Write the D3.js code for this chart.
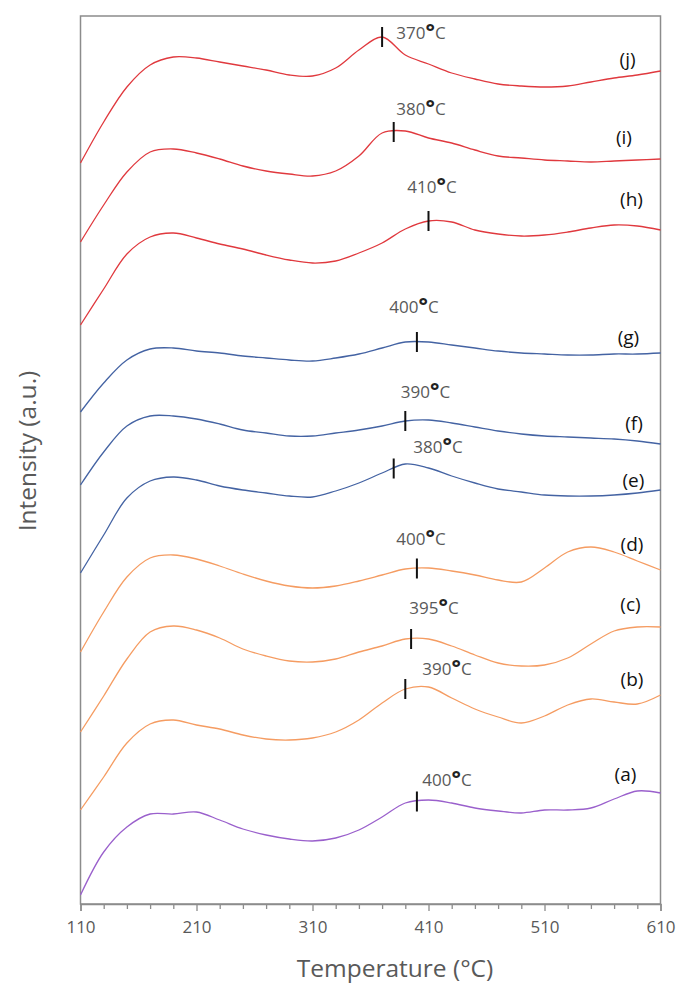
<!DOCTYPE html>
<html>
<head>
<meta charset="utf-8">
<script src="https://cdn.jsdelivr.net/npm/d3@7"></script>
<style>
  body { margin: 0; background: #fff; }
  svg { display: block; font-family: "Open Sans", "Noto Sans", sans-serif; }
</style>
</head>
<body>
<svg id="chart" width="679" height="985"></svg>
<script>
// Sampling temperatures (°C) shared by every profile
const temperature = [110, 130, 150, 170, 190, 210, 230, 250, 270, 290, 310, 330, 350,
                     370, 390, 410, 430, 450, 470, 490, 510, 530, 550, 570, 590, 610];

// Stacked intensity profiles (a.u.), bottom (a) to top (j)
const seriesA = [0.9, 5.2, 7.7, 9.0, 9.0, 9.2, 8.4, 7.5, 6.9, 6.5, 6.3, 6.6, 7.4, 8.7, 10.1, 10.4, 10.1, 9.6, 9.3, 9.1, 9.4, 9.4, 9.6, 10.5, 11.3, 11.1];
const seriesB = [9.4, 12.7, 16.1, 18.0, 18.4, 17.9, 17.5, 16.9, 16.5, 16.4, 16.6, 17.2, 18.4, 20.1, 21.5, 21.7, 20.6, 19.5, 18.7, 18.1, 18.8, 19.9, 20.5, 20.2, 20.0, 20.9];
const seriesC = [17.2, 20.8, 24.5, 27.2, 27.8, 27.4, 26.6, 25.5, 24.8, 24.3, 24.2, 24.5, 25.2, 25.8, 26.5, 26.5, 25.8, 24.9, 24.1, 23.8, 23.9, 24.6, 26.0, 27.3, 27.7, 27.7];
const seriesD = [25.2, 29.2, 32.7, 34.6, 34.9, 34.5, 33.8, 33.0, 32.3, 31.8, 31.6, 31.8, 32.3, 32.9, 33.5, 33.6, 33.3, 32.9, 32.4, 32.2, 33.6, 35.2, 35.7, 35.2, 34.3, 33.4];
const seriesE = [33.1, 36.9, 40.6, 42.3, 42.7, 42.4, 41.8, 41.4, 41.1, 40.8, 40.7, 41.3, 42.1, 43.1, 44.0, 43.6, 42.8, 42.1, 41.5, 41.2, 40.9, 40.8, 40.8, 40.9, 41.1, 41.4];
const seriesF = [41.9, 45.2, 47.8, 48.8, 48.8, 48.5, 48.0, 47.4, 47.1, 46.8, 46.8, 47.1, 47.4, 47.8, 48.3, 48.4, 48.1, 47.7, 47.3, 47.0, 46.8, 46.7, 46.6, 46.5, 46.3, 46.0];
const seriesG = [49.2, 52.1, 54.4, 55.5, 55.6, 55.3, 55.1, 54.8, 54.6, 54.4, 54.3, 54.6, 55.0, 55.6, 56.2, 56.2, 55.9, 55.6, 55.3, 55.1, 55.0, 54.9, 54.9, 55.0, 55.0, 55.1];
const seriesH = [57.9, 61.5, 65.0, 66.7, 67.1, 66.6, 66.0, 65.5, 64.9, 64.4, 64.1, 64.3, 65.1, 66.1, 67.5, 68.3, 68.2, 67.4, 67.0, 66.8, 66.9, 67.2, 67.6, 67.9, 67.8, 67.4];
const seriesI = [66.2, 69.9, 73.2, 75.2, 75.5, 75.1, 74.5, 73.8, 73.3, 73.0, 72.8, 73.3, 74.8, 77.1, 77.3, 76.6, 76.1, 75.4, 74.8, 74.6, 74.4, 74.3, 74.2, 74.3, 74.4, 74.5];
const seriesJ = [74.1, 78.2, 81.7, 83.9, 84.7, 84.6, 84.2, 83.8, 83.4, 82.9, 82.8, 83.6, 85.4, 86.7, 84.9, 84.0, 83.1, 82.5, 82.0, 81.8, 81.7, 81.8, 82.2, 82.6, 82.9, 83.3];

const seriesNames = ["(a)", "(b)", "(c)", "(d)", "(e)", "(f)", "(g)", "(h)", "(i)", "(j)"];
const seriesValues = [seriesA, seriesB, seriesC, seriesD, seriesE, seriesF, seriesG, seriesH, seriesI, seriesJ];

// Peak temperatures (°C) marked on each profile
const peakTemperature = [400, 390, 395, 400, 380, 390, 400, 410, 380, 370];

// Axis ticks
const majorTicks = [110, 210, 310, 410, 510, 610];
const minorTicks = [130, 150, 170, 190, 230, 250, 270, 290, 330, 350, 370, 390,
                    430, 450, 470, 490, 530, 550, 570, 590];

// ---- styling / layout ----
const colors = ["#9a60cc", "#f59c62", "#f59c62", "#f59c62",
                "#4463a3", "#4463a3", "#4463a3",
                "#e0393e", "#e0393e", "#e0393e"];
// anchor (temperature, intensity) for the series tags and peak labels
const tagAt = [[579.8, 12.3], [585.4, 21.8], [584.1, 29.3], [585.4, 35.3], [586.7, 41.7],
               [587.2, 47.4], [582.4, 56.0], [585.0, 69.8], [578.5, 76.0], [581.6, 83.8]];
const peakLabelAt = [[425.9, 11.8], [425.9, 22.9], [414.7, 29.0], [403.5, 35.9], [418.2, 45.1],
                     [407.4, 50.6], [397.5, 59.1], [413.0, 71.1], [403.5, 78.9], [403.5, 86.5]];

const W = 679, H = 985;
const margin = { top: 16, right: 18.5, bottom: 81, left: 80.5 };

const svg = d3.select("#chart");

const x = d3.scaleLinear().domain([110, 610]).range([margin.left, W - margin.right]);
const y = d3.scaleLinear().domain([0, 88.8]).range([H - margin.bottom, margin.top]);

const axisColor = "#8c8c8c";
const textColor = "#595959";

// frame
svg.append("rect")
  .attr("x", x(110)).attr("y", y(88.8))
  .attr("width", x(610) - x(110)).attr("height", y(0) - y(88.8))
  .attr("fill", "none").attr("stroke", axisColor).attr("stroke-width", 1.5);

// minor ticks
const minorAxis = svg.append("g")
  .attr("transform", `translate(0,${y(0)})`)
  .call(d3.axisBottom(x).tickValues(minorTicks).tickSize(5).tickFormat(""));
minorAxis.select(".domain").remove();
minorAxis.selectAll("line").attr("stroke", axisColor).attr("stroke-width", 1.3);

// major ticks with labels
const majorAxis = svg.append("g")
  .attr("transform", `translate(0,${y(0)})`)
  .call(d3.axisBottom(x).tickValues(majorTicks).tickSize(7).tickPadding(10).tickFormat(d3.format("d")));
majorAxis.select(".domain").attr("stroke", axisColor).attr("stroke-width", 1.5);
majorAxis.selectAll("line").attr("stroke", axisColor).attr("stroke-width", 1.3);
majorAxis.selectAll("text")
  .attr("fill", textColor)
  .style("font-size", "17px")
  .style("font-family", "'Open Sans', 'Noto Sans', sans-serif");

// axis titles
svg.append("text")
  .attr("x", 395).attr("y", 977)
  .attr("text-anchor", "middle")
  .attr("fill", textColor)
  .style("font-size", "24.5px")
  .text("Temperature (°C)");

svg.append("text")
  .attr("transform", `translate(36,${451}) rotate(-90)`)
  .attr("text-anchor", "middle")
  .attr("fill", textColor)
  .style("font-size", "24.5px")
  .text("Intensity (a.u.)");

// profiles
const line = d3.line()
  .x((d, i) => x(temperature[i]))
  .y(d => y(d))
  .curve(d3.curveCatmullRom.alpha(0.5));

const plot = svg.append("g");
seriesValues.forEach((vals, k) => {
  plot.append("path")
    .datum(vals)
    .attr("d", line)
    .attr("fill", "none")
    .attr("stroke", colors[k])
    .attr("stroke-width", 1.3)
    .attr("stroke-linejoin", "round");
});

// peak markers and labels
seriesValues.forEach((vals, k) => {
  const at = d3.scaleLinear().domain(temperature).range(vals);
  const t = peakTemperature[k];
  const cy = y(at(t));
  svg.append("line")
    .attr("x1", x(t)).attr("x2", x(t))
    .attr("y1", cy - 10).attr("y2", cy + 10)
    .attr("stroke", "#111").attr("stroke-width", 2);

  const lab = svg.append("text")
    .attr("x", x(peakLabelAt[k][0])).attr("y", y(peakLabelAt[k][1]))
    .attr("text-anchor", "middle")
    .attr("fill", textColor)
    .style("font-size", "17px");
  lab.append("tspan").text(t);
  lab.append("tspan").text("°").attr("fill", "#222").style("font-weight", "700").style("font-size", "22px");
  lab.append("tspan").text("C");
});

// series tags
seriesNames.forEach((name, k) => {
  svg.append("text")
    .attr("x", x(tagAt[k][0])).attr("y", y(tagAt[k][1]))
    .attr("text-anchor", "middle")
    .attr("fill", "#111")
    .style("font-size", "19px")
    .text(name);
});
</script>
</body>
</html>
